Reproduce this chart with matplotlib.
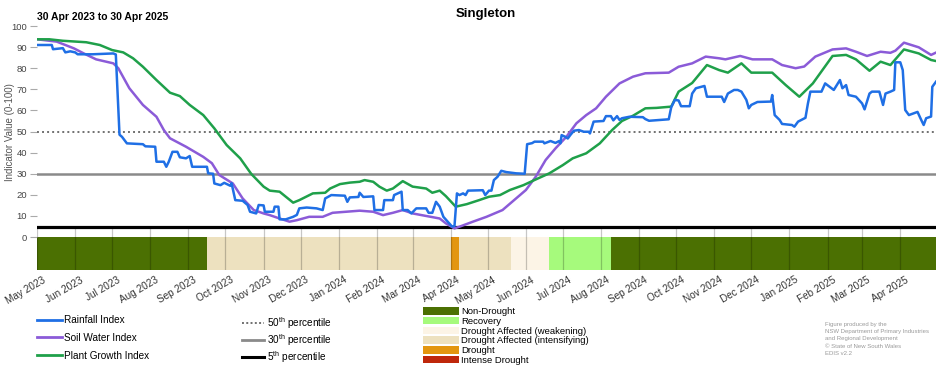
import pandas as pd
import matplotlib
matplotlib.use("Agg")
import matplotlib.pyplot as plt
import matplotlib.dates as mdates
import matplotlib.transforms as mtransforms
from matplotlib.lines import Line2D
from matplotlib.patches import Patch

plt.rcParams['font.family'] = ['Liberation Sans', 'DejaVu Sans']
plt.rcParams['mathtext.fontset'] = 'custom'
plt.rcParams['mathtext.rm'] = 'Liberation Sans'

# ---- data ----
rain_dates = ["2023-05-01", "2023-05-13", "2023-05-14", "2023-05-22", "2023-05-24", "2023-05-28",
              "2023-06-01", "2023-06-03", "2023-06-15", "2023-07-02", "2023-07-04", "2023-07-07",
              "2023-07-09", "2023-07-13", "2023-07-26", "2023-07-28", "2023-08-05", "2023-08-06",
              "2023-08-12", "2023-08-14", "2023-08-16", "2023-08-19", "2023-08-23", "2023-08-25",
              "2023-08-30", "2023-09-02", "2023-09-04", "2023-09-16", "2023-09-17", "2023-09-21",
              "2023-09-22", "2023-09-27", "2023-09-30", "2023-10-05", "2023-10-06", "2023-10-09",
              "2023-10-15", "2023-10-19", "2023-10-21", "2023-10-26", "2023-10-28", "2023-11-01",
              "2023-11-02", "2023-11-09", "2023-11-10", "2023-11-13", "2023-11-14", "2023-11-19",
              "2023-11-25", "2023-11-28", "2023-11-30", "2023-12-06", "2023-12-14", "2023-12-19",
              "2023-12-21", "2023-12-26", "2024-01-06", "2024-01-08", "2024-01-10", "2024-01-17",
              "2024-01-18", "2024-01-21", "2024-01-29", "2024-01-30", "2024-02-06", "2024-02-07",
              "2024-02-14", "2024-02-15", "2024-02-21", "2024-02-22", "2024-02-26", "2024-02-29",
              "2024-03-04", "2024-03-12", "2024-03-14", "2024-03-17", "2024-03-20", "2024-03-23",
              "2024-03-26", "2024-04-02", "2024-04-04", "2024-04-06", "2024-04-08", "2024-04-11",
              "2024-04-13", "2024-04-15", "2024-04-27", "2024-04-29", "2024-05-02", "2024-05-04",
              "2024-05-06", "2024-05-09", "2024-05-12", "2024-05-16", "2024-05-24", "2024-05-31",
              "2024-06-02", "2024-06-06", "2024-06-08", "2024-06-15", "2024-06-16", "2024-06-21",
              "2024-06-25", "2024-06-28", "2024-06-29", "2024-06-30", "2024-07-03", "2024-07-05",
              "2024-07-07", "2024-07-10", "2024-07-14", "2024-07-18", "2024-07-22", "2024-07-23",
              "2024-07-26", "2024-08-03", "2024-08-05", "2024-08-09", "2024-08-11", "2024-08-14",
              "2024-08-16", "2024-08-18", "2024-08-24", "2024-09-04", "2024-09-06", "2024-09-09",
              "2024-09-25", "2024-09-27", "2024-09-30", "2024-10-03", "2024-10-05", "2024-10-12",
              "2024-10-14", "2024-10-17", "2024-10-24", "2024-10-26", "2024-11-07", "2024-11-09",
              "2024-11-12", "2024-11-17", "2024-11-20", "2024-11-23", "2024-11-27", "2024-11-29",
              "2024-12-01", "2024-12-06", "2024-12-17", "2024-12-18", "2024-12-20", "2024-12-24",
              "2024-12-26", "2025-01-03", "2025-01-05", "2025-01-08", "2025-01-14", "2025-01-16",
              "2025-01-18", "2025-01-27", "2025-01-30", "2025-02-06", "2025-02-11", "2025-02-13",
              "2025-02-16", "2025-02-18", "2025-02-24", "2025-03-01", "2025-03-03", "2025-03-07",
              "2025-03-09", "2025-03-15", "2025-03-18", "2025-03-20", "2025-03-24", "2025-03-27",
              "2025-03-28", "2025-04-01", "2025-04-03", "2025-04-05", "2025-04-08", "2025-04-15",
              "2025-04-18", "2025-04-20", "2025-04-22", "2025-04-26", "2025-04-27", "2025-04-30"]
rain_values = [91.0, 91.0, 89.0, 89.5, 87.5, 88.0,
               87.5, 86.6, 86.6, 87.0, 86.5, 48.5,
               47.5, 44.4, 44.0, 43.0, 42.8, 35.7,
               35.7, 33.3, 35.7, 40.4, 40.4, 37.8,
               37.3, 38.4, 33.3, 33.3, 30.2, 30.0,
               25.4, 24.6, 25.7, 24.3, 25.5, 17.5,
               17.2, 15.2, 12.0, 11.2, 15.2, 15.0,
               12.0, 12.0, 14.4, 14.4, 8.4, 8.4,
               9.6, 10.5, 13.6, 14.0, 13.6, 12.8,
               18.3, 19.9, 19.6, 16.7, 18.8, 19.0,
               21.0, 19.0, 19.3, 12.8, 12.8, 17.5,
               17.5, 19.9, 21.5, 12.8, 12.8, 11.2,
               13.6, 13.6, 11.5, 11.5, 16.7, 14.4,
               9.6, 5.0, 5.2, 20.7, 19.9, 20.7,
               19.9, 22.0, 22.2, 19.9, 22.0, 22.0,
               27.0, 28.6, 31.4, 30.8, 30.2, 30.0,
               44.0, 44.5, 45.2, 45.2, 44.4, 45.5,
               44.6, 45.5, 44.4, 48.3, 47.5, 46.7,
               48.3, 50.4, 50.7, 49.9, 49.9, 49.1,
               54.7, 55.0, 57.3, 57.3, 55.3, 57.3,
               55.5, 56.3, 57.0, 56.8, 55.9, 55.1,
               55.8, 61.5, 65.0, 64.7, 62.0, 62.0,
               68.0, 70.5, 71.6, 66.5, 66.5, 64.0,
               68.0, 69.7, 69.7, 68.9, 65.0, 61.0,
               62.6, 64.0, 64.2, 67.3, 57.8, 55.5,
               53.6, 53.1, 52.3, 54.7, 56.5, 63.3,
               68.9, 68.9, 72.8, 69.7, 74.4, 70.5,
               72.0, 67.3, 66.5, 63.3, 60.5, 68.0,
               68.9, 68.9, 62.6, 68.0, 68.9, 69.7,
               82.8, 82.8, 79.1, 60.2, 57.8, 59.3,
               55.5, 53.1, 56.3, 57.1, 71.2, 73.6]

soil_dates = ["2023-05-01", "2023-05-17", "2023-05-31", "2023-06-08", "2023-06-18", "2023-07-02",
              "2023-07-06", "2023-07-15", "2023-07-26", "2023-08-06", "2023-08-12", "2023-08-17",
              "2023-08-30", "2023-09-13", "2023-09-20", "2023-09-26", "2023-10-07", "2023-10-15",
              "2023-10-24", "2023-11-01", "2023-11-06", "2023-11-14", "2023-11-22", "2023-11-28",
              "2023-12-08", "2023-12-19", "2023-12-27", "2024-01-07", "2024-01-18", "2024-01-29",
              "2024-02-06", "2024-02-14", "2024-02-22", "2024-03-01", "2024-03-12", "2024-03-23",
              "2024-03-28", "2024-04-04", "2024-04-08", "2024-04-19", "2024-04-30", "2024-05-13",
              "2024-05-24", "2024-06-01", "2024-06-09", "2024-06-17", "2024-06-25", "2024-07-04",
              "2024-07-12", "2024-07-20", "2024-07-28", "2024-08-05", "2024-08-16", "2024-08-27",
              "2024-09-06", "2024-09-25", "2024-10-03", "2024-10-14", "2024-10-25", "2024-11-05",
              "2024-11-10", "2024-11-22", "2024-12-02", "2024-12-18", "2024-12-26", "2025-01-06",
              "2025-01-13", "2025-01-22", "2025-02-05", "2025-02-16", "2025-02-24", "2025-03-05",
              "2025-03-16", "2025-03-24", "2025-03-28", "2025-04-04", "2025-04-16", "2025-04-26",
              "2025-04-30"]
soil_values = [93.7, 92.6, 89.4, 87.0, 84.2, 82.3,
               80.0, 70.5, 62.6, 57.0, 50.7, 46.8,
               42.8, 38.0, 35.0, 29.4, 25.4, 18.3,
               12.8, 11.2, 10.4, 8.8, 7.3, 8.0,
               9.6, 9.6, 11.5, 12.0, 12.5, 12.0,
               10.4, 11.5, 12.8, 11.2, 10.0, 8.8,
               6.5, 4.1, 4.9, 7.3, 9.6, 12.8,
               18.3, 22.3, 28.6, 36.5, 42.0, 47.6,
               53.9, 57.8, 61.0, 66.5, 72.8, 76.0,
               77.6, 77.9, 80.7, 82.3, 85.5, 84.7,
               84.2, 85.8, 84.2, 84.2, 81.5, 80.0,
               80.8, 85.5, 88.9, 89.4, 87.8, 85.8,
               87.8, 87.3, 88.3, 92.1, 89.9, 86.3,
               87.4]

plant_dates = ["2023-05-01", "2023-05-11", "2023-05-22", "2023-06-10", "2023-06-21", "2023-07-01",
               "2023-07-10", "2023-07-18", "2023-07-26", "2023-08-06", "2023-08-17", "2023-08-25",
               "2023-09-02", "2023-09-13", "2023-09-22", "2023-10-02", "2023-10-13", "2023-10-22",
               "2023-11-01", "2023-11-06", "2023-11-14", "2023-11-25", "2023-11-30", "2023-12-11",
               "2023-12-21", "2023-12-25", "2024-01-02", "2024-01-10", "2024-01-18", "2024-01-22",
               "2024-01-29", "2024-02-03", "2024-02-09", "2024-02-14", "2024-02-22", "2024-03-01",
               "2024-03-12", "2024-03-17", "2024-03-23", "2024-03-28", "2024-04-05", "2024-04-14",
               "2024-04-24", "2024-05-02", "2024-05-11", "2024-05-19", "2024-05-30", "2024-06-09",
               "2024-06-20", "2024-07-01", "2024-07-09", "2024-07-20", "2024-07-31", "2024-08-10",
               "2024-08-18", "2024-08-27", "2024-09-06", "2024-09-15", "2024-09-27", "2024-10-03",
               "2024-10-14", "2024-10-26", "2024-11-05", "2024-11-12", "2024-11-23", "2024-12-01",
               "2024-12-18", "2024-12-29", "2025-01-09", "2025-01-20", "2025-02-05", "2025-02-16",
               "2025-02-24", "2025-03-07", "2025-03-16", "2025-03-24", "2025-04-04", "2025-04-16",
               "2025-04-26", "2025-04-30"]
plant_values = [93.7, 93.7, 93.0, 92.3, 91.0, 88.6,
                87.5, 84.7, 80.7, 74.4, 68.4, 66.8,
                62.6, 57.8, 51.5, 43.6, 37.3, 29.9,
                23.9, 22.0, 21.5, 16.3, 17.5, 20.7,
                21.0, 23.0, 25.1, 25.8, 26.2, 27.0,
                26.2, 23.9, 22.0, 23.0, 26.5, 23.9,
                23.0, 21.0, 22.0, 19.4, 14.4, 15.6,
                17.5, 19.1, 19.9, 22.3, 24.6, 27.3,
                30.2, 34.1, 37.3, 39.7, 44.4, 50.7,
                55.0, 57.5, 61.0, 61.2, 61.8, 68.9,
                73.0, 81.5, 79.1, 77.9, 82.3, 77.9,
                77.9, 72.0, 66.5, 72.8, 85.8, 86.3,
                84.2, 78.8, 83.1, 81.5, 88.9, 87.0,
                83.9, 83.4]

# drought status band
status_starts = ["2023-04-30", "2023-09-16", "2024-04-01", "2024-04-08", "2024-05-20", "2024-06-20", "2024-08-09"]
status_ends = ["2023-09-16", "2024-04-01", "2024-04-08", "2024-05-20", "2024-06-20", "2024-08-09", "2025-04-30"]
status_names = ["Non-Drought", "Drought Affected (intensifying)", "Drought", "Drought Affected (intensifying)",
                "Drought Affected (weakening)", "Recovery", "Non-Drought"]

categories = ["Non-Drought", "Recovery", "Drought Affected (weakening)",
              "Drought Affected (intensifying)", "Drought", "Intense Drought"]
category_colors = ["#4b7002", "#a6fa7c", "#fcf4e6", "#ede1bf", "#e3960f", "#bf270b"]

percentiles = [50, 30, 5]
month_ticks = pd.date_range("2023-05-01", "2025-04-01", freq="MS")

# ---- figure ----
fig = plt.figure(figsize=(9.52, 3.70), dpi=100)
ax = fig.add_axes([37 / 952, 1 - 270 / 370, 899 / 952, 244 / 370])
band_bottom = -15.6
ax.set_ylim(band_bottom, 100)
ax.set_xlim(mdates.date2num(pd.Timestamp("2023-05-01")), mdates.date2num(pd.Timestamp("2025-04-30")))

cat_color = dict(zip(categories, category_colors))
for s, e, name in zip(status_starts, status_ends, status_names):
    x0 = mdates.date2num(pd.Timestamp(s))
    x1 = mdates.date2num(pd.Timestamp(e))
    ax.bar(x0, -band_bottom, width=x1 - x0, bottom=band_bottom, align="edge",
           color=cat_color[name], linewidth=0, zorder=1)

ax.vlines(mdates.date2num(month_ticks), band_bottom, 5, color="black", alpha=0.22, lw=0.9, zorder=2)

ax.axhline(percentiles[0], color="#707070", lw=1.4, ls=(0, (1, 1.6)), zorder=2)
ax.axhline(percentiles[1], color="#8a8a8a", lw=1.8, zorder=2)
ax.axhline(percentiles[2], color="black", lw=2.3, zorder=2)

rain_color, soil_color, plant_color = "#1f6fe5", "#8b5bd8", "#1fa04a"
ax.plot(mdates.date2num(pd.to_datetime(rain_dates)), rain_values, color=rain_color, lw=1.8, zorder=5)
ax.plot(mdates.date2num(pd.to_datetime(soil_dates)), soil_values, color=soil_color, lw=1.8, zorder=4)
ax.plot(mdates.date2num(pd.to_datetime(plant_dates)), plant_values, color=plant_color, lw=1.8, zorder=4)

for sp in ax.spines.values():
    sp.set_visible(False)

ax.set_yticks(range(0, 101, 10))
ax.tick_params(axis="y", labelsize=6.8, labelcolor="#444444", color="#aaaaaa", length=5, width=0.8, pad=2)
ax.set_xticks(mdates.date2num(month_ticks))
ax.set_xticklabels([d.strftime("%b %Y") for d in month_ticks], rotation=30, ha="right", va="top",
                   rotation_mode="anchor", fontsize=7.2, color="#333333")
ax.tick_params(axis="x", length=0, pad=3.5)
shift = mtransforms.ScaledTranslation(5 / 100, 0, fig.dpi_scale_trans)
for lab in ax.get_xticklabels():
    lab.set_transform(lab.get_transform() + shift)

fig.text(486 / 952, 1 - 14 / 370, "Singleton", ha="center", va="center", fontsize=9.5, fontweight="bold")
fig.text(37 / 952, 1 - 17 / 370, "30 Apr 2023 to 30 Apr 2025", ha="left", va="center",
         fontsize=7.5, fontweight="bold")
fig.text(10 / 952, 1 - 132 / 370, "Indicator Value (0-100)", rotation=90, ha="center", va="center",
         fontsize=7, color="#555555")

# legends
series_handles = [Line2D([], [], color=c, lw=2) for c in (rain_color, soil_color, plant_color)]
leg1 = fig.legend(series_handles, ["Rainfall Index", "Soil Water Index", "Plant Growth Index"],
                  loc="upper left", bbox_to_anchor=(37 / 952, 1 - 315 / 370), frameon=False,
                  fontsize=7.2, handlelength=2.5, handletextpad=0.2, labelspacing=0.78,
                  borderpad=0, borderaxespad=0)

pct_handles = [Line2D([], [], color="#707070", lw=1.4, ls=(0, (1, 1.2))),
               Line2D([], [], color="#8a8a8a", lw=2),
               Line2D([], [], color="black", lw=2.2)]
pct_labels = [r"%d$^{\mathrm{th}}$ percentile" % p for p in percentiles]
leg2 = fig.legend(pct_handles, pct_labels, loc="upper left", bbox_to_anchor=(242 / 952, 1 - 315 / 370),
                  frameon=False, fontsize=7.2, handlelength=2.2, handletextpad=0.3, labelspacing=0.12,
                  borderpad=0, borderaxespad=0)

cat_handles = [Patch(facecolor=c, edgecolor="none") for c in category_colors]
leg3 = fig.legend(cat_handles, categories, loc="upper left", bbox_to_anchor=(423 / 952, 1 - 307 / 370),
                  frameon=False, fontsize=6.8, handlelength=3.8, handleheight=0.85, handletextpad=0.25,
                  labelspacing=0.08, borderpad=0, borderaxespad=0)

fig.text(825 / 952, 1 - 322 / 370,
         "Figure produced by the\nNSW Department of Primary Industries\nand Regional Development\n"
         "\u00a9 State of New South Wales\nEDIS v2.2",
         ha="left", va="top", fontsize=4.3, color="#9a9a9a", linespacing=1.55)

fig.savefig("out.png", dpi=100)
